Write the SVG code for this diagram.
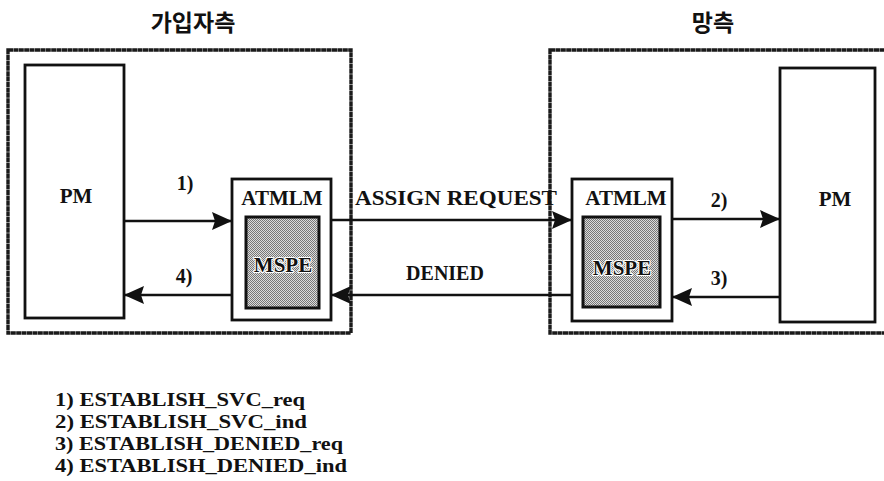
<svg xmlns="http://www.w3.org/2000/svg" width="884" height="481" viewBox="0 0 884 481">
<style>
.t{font-family:"Liberation Serif","Times New Roman",serif;font-weight:bold;fill:#111}
.ko{font-family:"Noto Sans CJK KR","Noto Sans",sans-serif;font-weight:bold;fill:#111;font-size:23px}
.outer{fill:none;stroke:#1a1a1a;stroke-width:3.4;stroke-dasharray:5 0.4}
.box{fill:#fff;stroke:#111;stroke-width:2.8}
.mspe{fill:url(#dots);stroke:#111;stroke-width:3}
.ln{stroke:#111;stroke-width:2.6;fill:none;marker-end:url(#arr)}
.halo{stroke:#fff;stroke-width:2.2;paint-order:stroke;stroke-linejoin:round}
.lg{font-size:18.5px}
</style>
<defs>
<pattern id="dots" width="2" height="2" patternUnits="userSpaceOnUse">
<rect width="2" height="2" fill="#dcdcdc"/>
<rect width="1" height="1" fill="#777"/>
<rect x="1" y="1" width="1" height="1" fill="#777"/>
</pattern>
<marker id="arr" markerUnits="userSpaceOnUse" markerWidth="22" markerHeight="20" refX="20" refY="9" orient="auto">
<path d="M0,0 L20,9 L0,18 L3,9 z" fill="#111"/>
</marker>
</defs>
<g id="title-left"><text class="ko" x="193" y="31" text-anchor="middle">가입자측</text></g>
<g id="title-right"><text class="ko" x="713" y="31" text-anchor="middle">망측</text></g>
<g id="subscriber-side"><rect class="outer" x="8" y="50" width="343" height="283"/></g>
<g id="network-side"><rect class="outer" x="550" y="50" width="340" height="283"/></g>
<g id="pm-left"><rect class="box" x="25" y="65" width="99" height="253"/><text class="t" x="76" y="203" font-size="21" text-anchor="middle">PM</text></g>
<g id="atmlm-left"><rect class="box" x="232" y="179" width="99" height="141"/><text class="t" x="282" y="205" font-size="21" text-anchor="middle">ATMLM</text></g>
<g id="mspe-left"><rect class="mspe" x="246" y="217" width="73" height="91"/><text class="t halo" x="283" y="272" font-size="21" text-anchor="middle">MSPE</text></g>
<g id="atmlm-right"><rect class="box" x="572" y="179" width="100" height="142"/><text class="t" x="626" y="205" font-size="21" text-anchor="middle">ATMLM</text></g>
<g id="mspe-right"><rect class="mspe" x="583" y="217" width="77" height="90"/><text class="t halo" x="622" y="275" font-size="21" text-anchor="middle">MSPE</text></g>
<g id="pm-right"><rect class="box" x="780" y="68" width="95" height="254"/><text class="t" x="835" y="206" font-size="21" text-anchor="middle">PM</text></g>
<g id="connectors">
<line class="ln" x1="124" y1="221" x2="232" y2="221"/>
<line class="ln" x1="331" y1="220" x2="572" y2="220"/>
<line class="ln" x1="672" y1="219" x2="780" y2="219"/>
<line class="ln" x1="780" y1="297" x2="672" y2="297"/>
<line class="ln" x1="572" y1="295" x2="331" y2="295"/>
<line class="ln" x1="232" y1="295" x2="124" y2="295"/>
<text class="t" x="185" y="190" font-size="20" text-anchor="middle">1)</text>
<text class="t" x="184" y="283" font-size="20" text-anchor="middle">4)</text>
<text class="t" x="719" y="207" font-size="20" text-anchor="middle">2)</text>
<text class="t" x="719" y="285" font-size="20" text-anchor="middle">3)</text>
<text class="t" x="355" y="205" font-size="20" textLength="202" lengthAdjust="spacingAndGlyphs">ASSIGN REQUEST</text>
<text class="t" x="445" y="280" font-size="20" text-anchor="middle">DENIED</text>
</g>
<g id="legend">
<text class="t lg" x="55" y="406" textLength="250" lengthAdjust="spacingAndGlyphs">1) ESTABLISH_SVC_req</text>
<text class="t lg" x="55" y="428" textLength="252" lengthAdjust="spacingAndGlyphs">2) ESTABLISH_SVC_ind</text>
<text class="t lg" x="55" y="450" textLength="288" lengthAdjust="spacingAndGlyphs">3) ESTABLISH_DENIED_req</text>
<text class="t lg" x="55" y="471.5" textLength="292" lengthAdjust="spacingAndGlyphs">4) ESTABLISH_DENIED_ind</text>
</g>
</svg>
